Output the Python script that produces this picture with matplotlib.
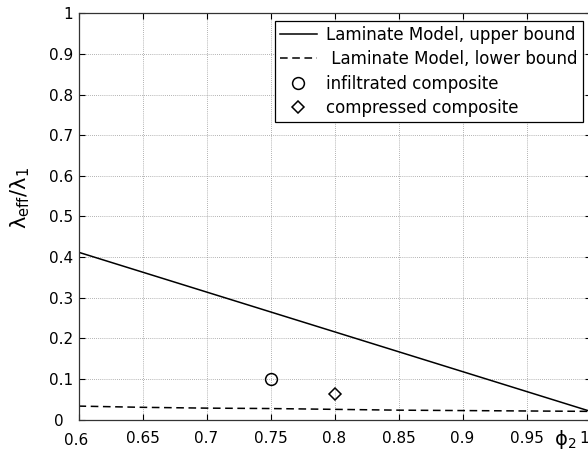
import matplotlib
matplotlib.use("Agg")
import matplotlib.pyplot as plt
import matplotlib.transforms as mtransforms

plt.rcParams['font.family'] = ['DejaVu Sans']
plt.rcParams['mathtext.fontset'] = 'dejavusans'

# Laminate model bounds (normalised effective conductivity vs. phi_2)
phi_upper = [0.6, 1.0]
upper_bound = [0.412, 0.020]

phi_lower = [0.6, 0.65, 0.7, 0.75, 0.8, 0.85, 0.9, 0.95, 1.0]
lower_bound = [0.033, 0.030, 0.028, 0.027, 0.025, 0.023, 0.022, 0.021, 0.020]

# Measured samples
infiltrated_phi = [0.75]
infiltrated_val = [0.10]
compressed_phi = [0.80]
compressed_val = [0.062]

xticks = [0.6, 0.65, 0.7, 0.75, 0.8, 0.85, 0.9, 0.95, 1.0]
xticklabels = ['0.6', '0.65', '0.7', '0.75', '0.8', '0.85', '0.9', '0.95', '1']
yticks = [0, 0.1, 0.2, 0.3, 0.4, 0.5, 0.6, 0.7, 0.8, 0.9, 1.0]
yticklabels = ['0', '0.1', '0.2', '0.3', '0.4', '0.5', '0.6', '0.7', '0.8', '0.9', '1']

W, H = 588, 465
fig = plt.figure(figsize=(W / 100, H / 100), dpi=100)
ax = fig.add_axes([78.5 / W, 1 - 419.5 / H, 512 / W, 406 / H])

ax.plot(phi_upper, upper_bound, color='black', lw=1.1,
        label='Laminate Model, upper bound')
ax.plot(phi_lower, lower_bound, color='black', lw=1.1, ls=(0, (5, 3)),
        label=' Laminate Model, lower bound')
ax.plot(infiltrated_phi, infiltrated_val, ls='none', marker='o', ms=8.5,
        mfc='none', mec='black', mew=1.1, label='infiltrated composite')
ax.plot(compressed_phi, compressed_val, ls='none', marker='D', ms=6.5,
        mfc='none', mec='black', mew=1.1, label='compressed composite')

ax.set_xlim(0.6, 1.0)
ax.set_ylim(0, 1)
ax.set_xticks(xticks)
ax.set_xticklabels(xticklabels)
ax.set_yticks(yticks)
ax.set_yticklabels(yticklabels)
ax.tick_params(direction='in', top=True, right=True, length=4, width=0.8,
               labelsize=11, colors='black')
ax.tick_params(axis='x', pad=8.5)
ax.tick_params(axis='y', pad=4)
ax.grid(True, ls=(0, (1, 1.5)), color='#999999', lw=0.6)
for s in ax.spines.values():
    s.set_linewidth(0.9)
    s.set_color('#333333')

# keep the corner labels apart
px = lambda dx, dy: mtransforms.ScaledTranslation(dx / 100, dy / 100, fig.dpi_scale_trans)
ylbl0 = ax.get_yticklabels()[0]
ylbl0.set_transform(ylbl0.get_transform() + px(-9, 0))
xlbl_last = ax.get_xticklabels()[-1]
xlbl_last.set_transform(xlbl_last.get_transform() + px(-6, 0))
xlbl0 = ax.get_xticklabels()[0]
xlbl0.set_transform(xlbl0.get_transform() + px(-2, -2))

ax.set_ylabel('λ$_{\\mathrm{eff}}$/λ$_1$', fontsize=15)
ax.yaxis.set_label_coords(-0.091, 0.545)
ax.text(0.951, -0.05, 'ϕ$_2$', transform=ax.transAxes, fontsize=14,
        ha='center', va='center', clip_on=False)

leg = ax.legend(loc='upper right', fontsize=12, frameon=True, fancybox=False,
                edgecolor='black', framealpha=1, handlelength=2.2,
                handletextpad=0.6, borderaxespad=0.45, labelspacing=0.38,
                borderpad=0.3)
leg.get_frame().set_linewidth(0.9)

fig.savefig('out.png', dpi=100)
